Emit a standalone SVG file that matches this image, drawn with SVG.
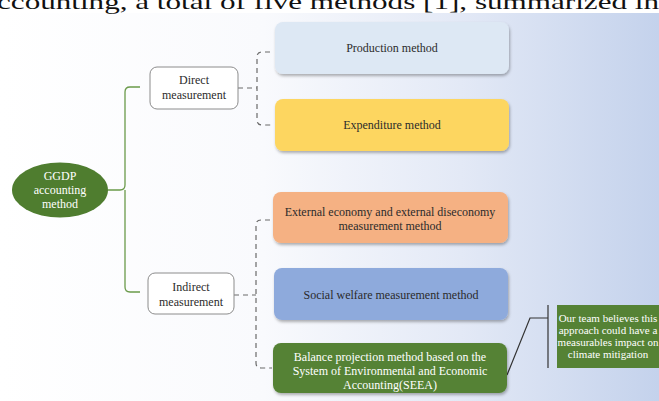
<svg xmlns="http://www.w3.org/2000/svg" width="659" height="401" viewBox="0 0 659 401">
  <defs>
    <linearGradient id="bg" x1="0" y1="0" x2="1" y2="0">
      <stop offset="0" stop-color="#ffffff"/>
      <stop offset="0.4" stop-color="#f9fafd"/>
      <stop offset="0.7" stop-color="#e3e9f6"/>
      <stop offset="1" stop-color="#c4d2ec"/>
    </linearGradient>
    <filter id="sh" x="-10%" y="-20%" width="120%" height="150%">
      <feDropShadow dx="1" dy="2" stdDeviation="1.5" flood-color="#000" flood-opacity="0.3"/>
    </filter>
  </defs>
  <style>
    text { font-family: "Liberation Serif", "Times New Roman", serif; }
    .t { font-size: 12px; fill: #2b2b2b; text-anchor: middle; }
    .w { font-size: 12px; fill: #ffffff; text-anchor: middle; }
    .sub { fill: #ffffff; stroke: #8c8c8c; stroke-width: 1; }
    .m { filter: url(#sh); }
    .solid { fill: none; stroke: #6a9a4a; stroke-width: 1.3; }
    .dash { fill: none; stroke: #6a6a6a; stroke-width: 1.2; stroke-dasharray: 5 4; }
    .call { fill: none; stroke: #333333; stroke-width: 1.2; }
  </style>
  <rect x="0" y="0" width="659" height="401" fill="#ffffff"/>
  <rect x="0" y="13" width="659" height="388" fill="url(#bg)"/>
  <text x="-3" y="9" font-size="22" fill="#111" textLength="662" lengthAdjust="spacingAndGlyphs">ccounting, a total of five methods [1], summarized in</text>

  <g id="connectors">
    <path class="solid" d="M108,190 H120 Q125,190 125,185 V92 Q125,87 130,87 H140"/>
    <path class="solid" d="M125,190 V287 Q125,292 130,292 H140"/>
    <path class="dash" d="M238,88 H257"/>
    <path class="dash" d="M270,52 H262 Q257,52 257,57 V120 Q257,125 262,125 H272"/>
    <path class="dash" d="M234,295 H256"/>
    <path class="dash" d="M270,220 H261 Q256,220 256,225 V363 Q256,368 261,368 H272"/>
    <path class="call" d="M507,375 L530,318 H548"/>
    <path class="call" d="M548,305 V368"/>
  </g>

  <g id="root">
    <ellipse cx="60" cy="190" rx="48" ry="27.5" fill="#4f7d2f"/>
    <text class="w" x="60" y="180">GGDP</text>
    <text class="w" x="60" y="194">accounting</text>
    <text class="w" x="60" y="208">method</text>
  </g>

  <g id="direct">
    <rect class="sub" x="150" y="67" width="88" height="42" rx="7"/>
    <text class="t" x="194" y="84">Direct</text>
    <text class="t" x="194" y="99">measurement</text>
  </g>

  <g id="indirect">
    <rect class="sub" x="148" y="273" width="86" height="41" rx="7"/>
    <text class="t" x="191" y="291">Indirect</text>
    <text class="t" x="191" y="306">measurement</text>
  </g>

  <g id="production">
    <rect class="m" x="275" y="22" width="234" height="52" rx="8" fill="#dde8f4"/>
    <text class="t" x="392" y="52">Production method</text>
  </g>

  <g id="expenditure">
    <rect class="m" x="275" y="99" width="234" height="52" rx="8" fill="#fdd660"/>
    <text class="t" x="392" y="129">Expenditure method</text>
  </g>

  <g id="external">
    <rect class="m" x="273" y="192" width="235" height="51" rx="8" fill="#f5b183"/>
    <text class="t" x="390" y="216">External economy and external diseconomy</text>
    <text class="t" x="390" y="230">measurement method</text>
  </g>

  <g id="social">
    <rect class="m" x="274" y="268" width="234" height="52" rx="8" fill="#8eaadc"/>
    <text class="t" x="391" y="299">Social welfare measurement method</text>
  </g>

  <g id="balance">
    <rect class="m" x="273" y="343" width="234" height="50" rx="8" fill="#558235"/>
    <text class="w" x="390" y="361">Balance projection method based on the</text>
    <text class="w" x="390" y="375">System of Environmental and Economic</text>
    <text class="w" x="390" y="389">Accounting(SEEA)</text>
  </g>

  <g id="note">
    <rect x="557" y="305" width="102" height="63" fill="#558235"/>
    <text x="608" y="322" font-size="11" fill="#fff" text-anchor="middle">Our team believes this</text>
    <text x="608" y="334" font-size="11" fill="#fff" text-anchor="middle">approach could have a</text>
    <text x="608" y="346" font-size="11" fill="#fff" text-anchor="middle">measurables impact on</text>
    <text x="608" y="358" font-size="11" fill="#fff" text-anchor="middle">climate mitigation</text>
  </g>
</svg>
